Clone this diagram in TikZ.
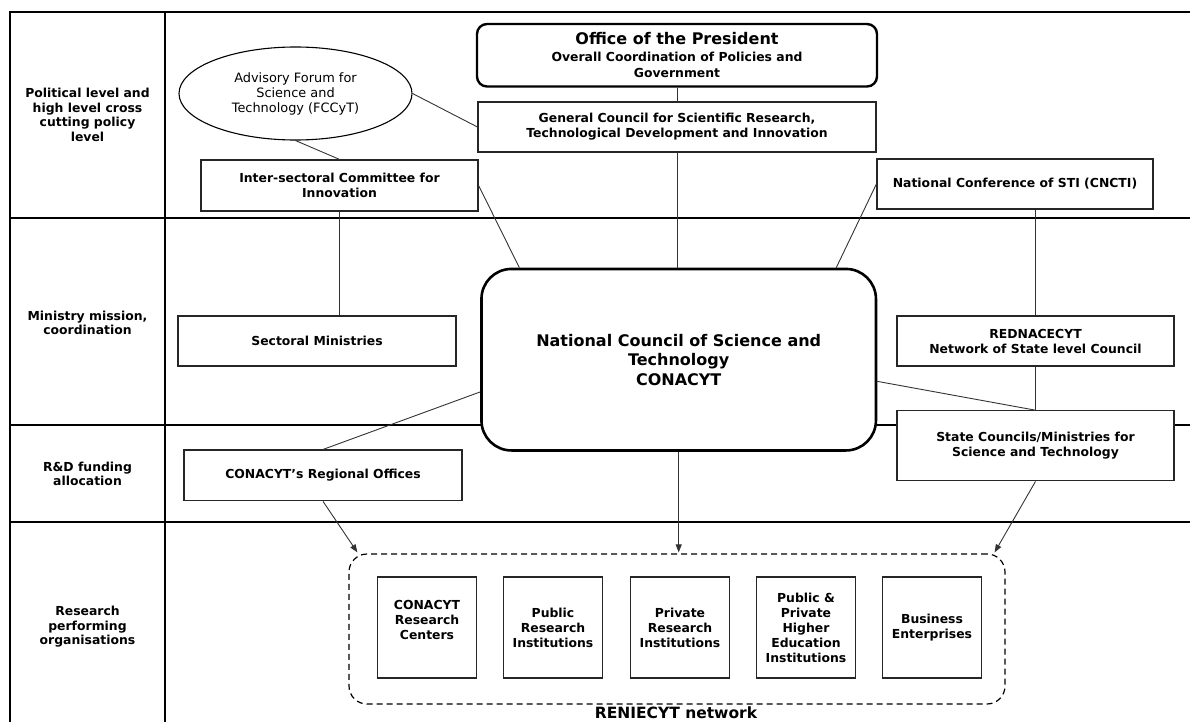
\documentclass[tikz,border=0pt]{standalone}
\usepackage{fontspec}
\setmainfont{DejaVu Sans}
\usetikzlibrary{shapes.geometric,arrows.meta,calc}
\newcommand\boxfont{\fontsize{12.4}{15}\selectfont\bfseries}
\begin{document}
\begin{tikzpicture}[x=1pt,y=-1pt,
  frame/.style={line width=2.4pt},
  box/.style={draw=black!85,line width=1.2pt,fill=white,inner sep=0pt,align=center,font=\boxfont},
  smallbox/.style={box,minimum width=99pt,minimum height=101pt},
  conn/.style={draw=black!80,line width=0.9pt},
  arr/.style={conn,-{Triangle[length=8pt,width=6pt]}},
  lab/.style={align=center,font=\fontsize{12.4}{14.5}\selectfont\bfseries},
]
\useasboundingbox (0,0) rectangle (1190,722);
% frame
\draw[frame] (10,722) -- (10,12) -- (1190,12);
\draw[frame] (165,12) -- (165,722);
\draw[frame] (10,218) -- (1190,218);
\draw[frame] (10,425) -- (1190,425);
\draw[frame] (10,522) -- (1190,522);
% row labels
\node[lab] (l1) at (87.5,115) {Political level and\\high level cross\\cutting policy\\level};
\node[lab] (l2) at (87.5,323) {Ministry mission,\\coordination};
\node[lab] (l3) at (87.5,474) {R\&D funding\\allocation};
\node[lab] (l4) at (87.5,627) {Research\\performing\\organisations};
% top level
\node[box,draw=black,line width=2.4pt,rounded corners=10pt,minimum width=400pt,minimum height=62.5pt,font=\fontsize{12.4}{16.5}\selectfont\bfseries] (office) at (677,55.25)
  {{\fontsize{16}{17}\selectfont Office of the President}\\Overall Coordination of Policies and\\Government};
\node[box,minimum width=398pt,minimum height=50pt] (gc) at (677,127)
  {General Council for Scientific Research,\\Technological Development and Innovation};
\node[draw=black,line width=1.1pt,fill=white,ellipse,inner sep=0pt,minimum width=233pt,minimum height=93pt,align=center,font=\fontsize{12.9}{15}\selectfont] (fcc) at (295.5,93.5)
  {Advisory Forum for\\Science and\\Technology (FCCyT)};
\node[box,minimum width=277pt,minimum height=51pt] (inter) at (339.5,185.5)
  {Inter-sectoral Committee for\\Innovation};
\node[box,minimum width=276pt,minimum height=50pt] (cncti) at (1015,184)
  {National Conference of STI (CNCTI)};
% ministry level
\node[box,minimum width=278pt,minimum height=50pt] (sect) at (317,341) {Sectoral Ministries};
\node[box,minimum width=277pt,minimum height=50pt] (red) at (1035.5,341)
  {REDNACECYT\\Network of State level Council};
\node[box,draw=black,line width=2.6pt,rounded corners=30pt,minimum width=394.5pt,minimum height=181.5pt,font=\fontsize{16}{19.5}\selectfont\bfseries] (cnc) at (678.7,359.7)
  {National Council of Science and\\Technology\\CONACYT};
\node[box,minimum width=277pt,minimum height=70pt] (state) at (1035.5,445.8)
  {State Councils/Ministries for\\Science and Technology};
\node[box,minimum width=278pt,minimum height=50.7pt] (reg) at (323,475.4)
  {CONACYT’s Regional Offices};
% research performing
\node[draw=black,line width=1.2pt,dashed,dash pattern=on 6pt off 4pt,rounded corners=18pt,minimum width=656pt,minimum height=150pt,inner sep=0pt] (rn) at (677,629) {};
\node[smallbox] (b1) at (427,627.5) {CONACYT\\Research\\Centers\\\mbox{}};
\node[smallbox] (b2) at (553,627.5) {Public\\Research\\Institutions};
\node[smallbox] (b3) at (680,627.5) {Private\\Research\\Institutions};
\node[smallbox] (b4) at (806,627.5) {Public \&\\Private\\Higher\\Education\\Institutions};
\node[smallbox] (b5) at (932,627.5) {Business\\Enterprises};
\node[font=\fontsize{15.5}{17}\selectfont\bfseries] (rnl) at (676,713) {RENIECYT network};
% connectors
\draw[conn] (office.south) -- (gc.north);
\draw[conn] (fcc.east) -- (gc.west);
\draw[conn] (fcc.south) -- (inter.north);
\draw[conn] (inter.south) -- (inter.south |- sect.north);
\draw[conn] (inter.east) -- ($(cnc.north west)+(39.2,0)$);
\draw[conn] (gc.south) -- (gc.south |- cnc.north);
\draw[conn] (cncti.west) -- ($(cnc.north east)+(-41,0)$);
\draw[conn] (red.north |- cncti.south) -- (red.north);
\draw[conn] (red.south) -- (state.north);
\draw[conn] ($(cnc.north east)+(0,113.7)$) -- (state.north);
\draw[conn] ($(cnc.north west)+(0,124.3)$) -- (reg.north);
\draw[arr] (reg.south) -- ($(rn.north west)+(9,-1)$);
\draw[arr] (cnc.south) -- ($(cnc.south |- rn.north)+(0,-1)$);
\draw[arr] (state.south) -- ($(rn.north east)+(-11,-1)$);
\end{tikzpicture}
\end{document}
